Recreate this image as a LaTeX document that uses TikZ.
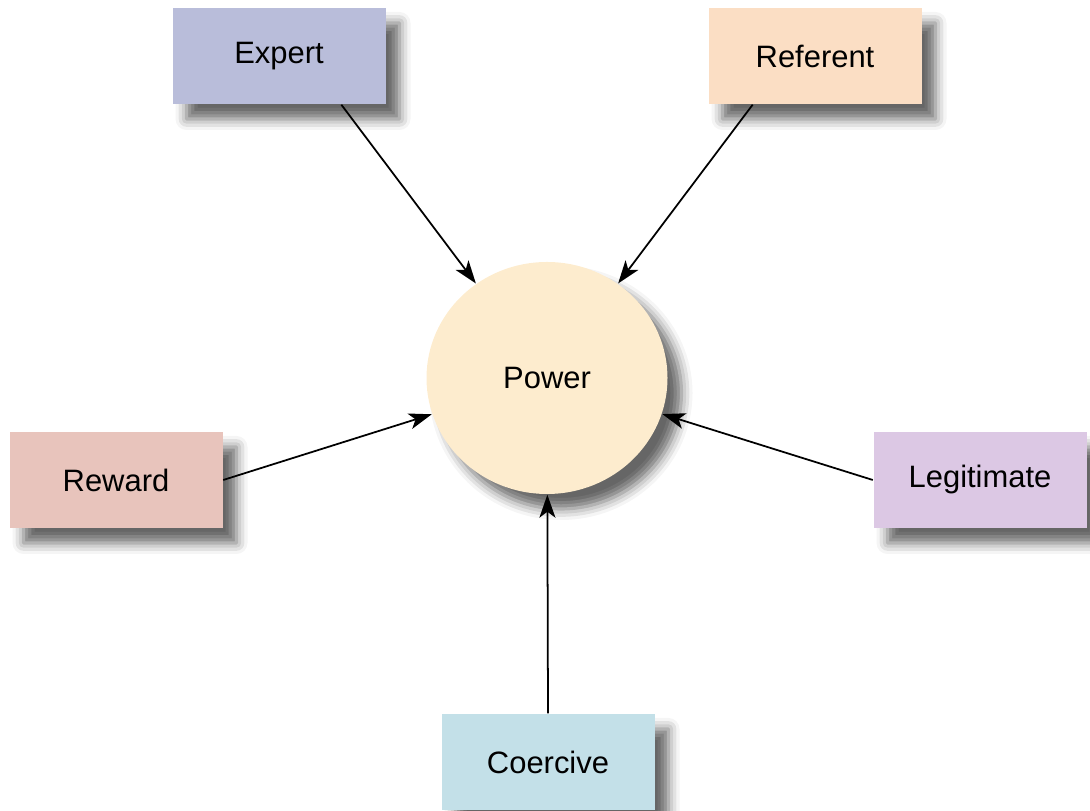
\documentclass[tikz,border=0pt]{standalone}
\usepackage{fontspec}
\setmainfont{Liberation Sans}
\usetikzlibrary{arrows.meta, shapes.geometric, shadows.blur}

\definecolor{expertc}{HTML}{B9BDDA}
\definecolor{referentc}{HTML}{FBDEC4}
\definecolor{rewardc}{HTML}{E8C4BC}
\definecolor{legitc}{HTML}{DCC8E4}
\definecolor{coercivec}{HTML}{C3E0E8}
\definecolor{powerc}{HTML}{FDECCE}

\begin{document}
\begin{tikzpicture}[x=0.1mm, y=0.1mm,
    >={Stealth[length=2.3mm, width=1.6mm, inset=0.6mm]},
    base/.style={font=\fontsize{8.8}{11}\selectfont,
        blur shadow={shadow xshift=1.4mm, shadow yshift=-1.5mm, shadow blur radius=1.1mm, shadow opacity=60}},
    basebox/.style={base, rectangle, minimum width=21.3mm, minimum height=9.6mm, inner sep=0pt}]
    % Rahmen
    \useasboundingbox (0,0) rectangle (1090,811);

    % Mitte
    \node[base, ellipse, fill=powerc, minimum width=24.1mm, minimum height=23.2mm] (power) at (547,433) {Power};

    % Machtquellen
    \node[basebox, fill=expertc] (expert) at (279,755) {Expert};
    \node[basebox, fill=referentc] (referent) at (815,755) {Referent};
    \node[basebox, fill=rewardc] (reward) at (116,331) {Reward};
    \node[basebox, fill=legitc] (legit) at (980,331) {Legitimate};
    \node[basebox, fill=coercivec] (coercive) at (548,49) {Coercive};

    % Pfeile
    \draw[->, line width=0.5pt] (expert.-38) -- (power);
    \draw[->, line width=0.5pt] (referent.218) -- (power);
    \draw[->, line width=0.5pt] (reward.east) -- (power);
    \draw[->, line width=0.5pt] (legit.west) -- (power);
    \draw[->, line width=0.5pt] (coercive.north) -- (power);
\end{tikzpicture}
\end{document}
